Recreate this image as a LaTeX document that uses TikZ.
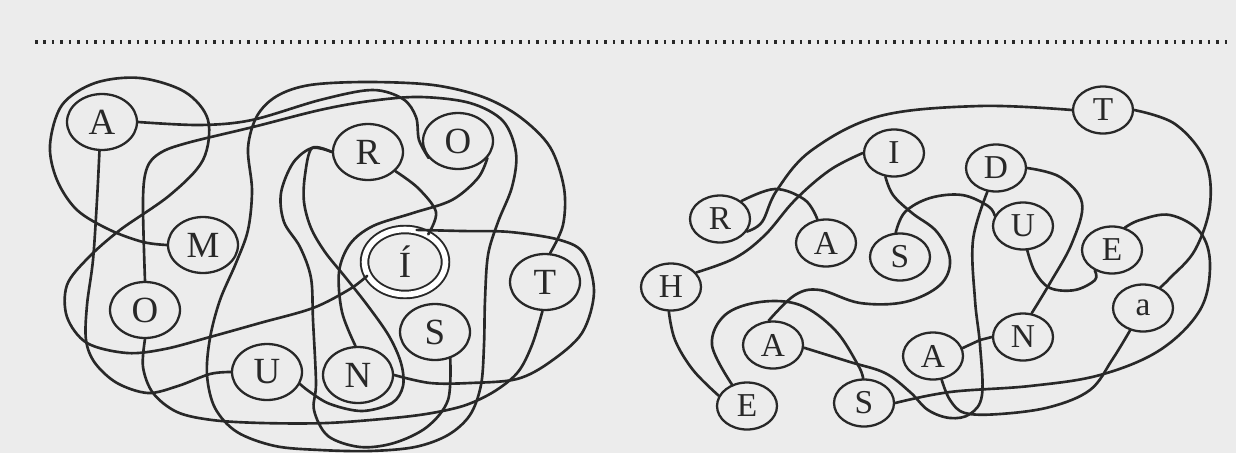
\documentclass[tikz,border=0pt]{standalone}
\usepackage{fontspec}
\setmainfont{Liberation Serif}
\usetikzlibrary{shapes.geometric}
\definecolor{bgc}{RGB}{236,236,236}
\definecolor{ink}{RGB}{40,40,40}
\begin{document}
\begin{tikzpicture}[x=0.02cm,y=-0.02cm,
  lt/.style={ellipse,draw=ink,line width=1.3pt,minimum width=1.4cm,minimum height=1.12cm,inner sep=0pt,text=ink,font=\fontsize{21}{24}\selectfont},
  dbl/.style={lt,double,double distance=3.2pt,line width=1.1pt,minimum width=1.62cm,minimum height=1.3cm},
  rt/.style={ellipse,draw=ink,line width=1.3pt,minimum width=1.2cm,minimum height=0.94cm,inner sep=0pt,text=ink,font=\fontsize{19}{22}\selectfont},
  ln/.style={draw=ink,line width=1.5pt,line join=round,line cap=round}]
\fill[bgc] (0,0) rectangle (1236,453);
\useasboundingbox (0,0) rectangle (1236,453);
\draw[ink,line width=2pt,dash pattern=on 0.05cm off 0.12cm] (35,42) -- (1232,42);
% left nodes
\node[lt] (A) at (102,122) {A};
\node[lt] (M) at (203,245) {M};
\node[lt] (O1) at (145,310) {O};
\node[lt] (R) at (368,152) {R};
\node[lt] (O2) at (458,141) {O};
\node[dbl] (I1) at (405,262) {Í};
\node[lt] (T1) at (545,282) {T};
\node[lt] (S) at (435,332) {S};
\node[lt] (U) at (267,372) {U};
\node[lt] (N) at (358,375) {N};
% right nodes
\node[rt] (T) at (1103,110) {T};
\node[rt] (I) at (894,153) {I};
\node[rt] (D) at (996,168) {D};
\node[rt] (U2) at (1023,226) {U};
\node[rt] (E) at (1112,250) {E};
\node[rt] (R2) at (720,219) {R};
\node[rt] (A1) at (826,243) {A};
\node[rt] (S1) at (900,257) {S};
\node[rt] (H) at (671,287) {H};
\node[rt] (A2) at (773,345) {A};
\node[rt] (E2) at (747,406) {E};
\node[rt] (S2) at (864,403) {S};
\node[rt] (A3) at (933,356) {A};
\node[rt] (N2) at (1023,337) {N};
\node[rt] (a) at (1143,308) {a};
% right connectors
\draw[ln] plot[smooth,tension=0.6] coordinates {(T.west) (980,106) (880,116) (812,150) (777,190) (762,222) (R2.-25)};
\draw[ln] plot[smooth,tension=0.6] coordinates {(T.east) (1175,124) (1205,160) (1210,205) (1195,250) (1170,278) (a.50)};
\draw[ln] plot[smooth,tension=0.6] coordinates {(I.west) (830,170) (795,200) (765,235) (735,258) (H.30)};
\draw[ln] plot[smooth,tension=0.6] coordinates {(I.-110) (893,195) (912,213) (937,232) (950,260) (940,285) (905,302) (860,303) (820,290) (795,295) (A2.100)};
\draw[ln] plot[smooth,tension=0.6] coordinates {(R2.40) (775,189) (805,200) (A1.110)};
\draw[ln] plot[smooth,tension=0.6] coordinates {(S1.100) (905,212) (930,198) (962,195) (988,206) (U2.160)};
\draw[ln] plot[smooth,tension=0.6] coordinates {(D.east) (1060,177) (1082,203) (1072,243) (1050,283) (N2.70)};
\draw[ln] plot[smooth,tension=0.6] coordinates {(D.-110) (973,240) (975,300) (980,345) (982,395) (970,414) (950,418) (928,410) (910,392) (885,373) (850,362) (A2.-5)};
\draw[ln] (N2.west) -- (980,340) -- (A3.15);
\draw[ln] plot[smooth,tension=0.6] coordinates {(A3.-70) (950,400) (965,413) (1000,414) (1050,407) (1090,390) (1112,360) (a.-120)};
\draw[ln] plot[smooth,tension=0.6] coordinates {(S2.east) (950,392) (1030,386) (1100,375) (1160,350) (1200,310) (1210,265) (1200,232) (1170,215) (1140,220) (E.60)};
\draw[ln] plot[smooth,tension=0.6] coordinates {(U2.-80) (1035,272) (1050,288) (1075,290) (1095,280) (E.-130)};
\draw[ln] plot[smooth,tension=0.6] coordinates {(H.-95) (675,340) (693,370) (E2.160)};
\draw[ln] plot[smooth,tension=0.6] coordinates {(E2.125) (712,345) (725,315) (760,302) (800,305) (835,330) (858,365) (S2.92)};
% left connectors
% M -- loop round A -- I
\draw[ln] plot[smooth,tension=0.55] coordinates {(M.west) (143,242) (110,230) (77,210) (57,180) (50,145) (62,105) (95,83) (140,78) (185,92) (208,120) (203,160) (170,195) (120,230) (88,258) (67,285) (67,317) (87,343) (127,353) (165,349) (210,337) (260,323) (313,308) (350,289) (I1.200)};
% A -- U
\draw[ln] plot[smooth,tension=0.55] coordinates {(A.-95) (97,200) (93,260) (87,305) (86,340) (95,363) (117,383) (148,393) (178,386) (210,374) (U.west)};
% A -- O (hugging its left)
\draw[ln] plot[smooth,tension=0.55] coordinates {(A.east) (200,125) (252,120) (320,100) (372,90) (403,99) (416,117) (419,140) (O2.-150)};
% O -- T, long loop
\draw[ln] plot[smooth,tension=0.55] coordinates {(O1.north) (143,200) (147,168) (160,153) (187,143) (253,127) (320,110) (370,101) (420,97) (470,103) (503,121) (516,153) (512,187) (498,222) (488,255) (485,300) (484,345) (481,385) (470,415) (448,435) (415,447) (370,451) (320,450) (275,446) (237,432) (215,408) (207,375) (210,338) (220,300) (236,263) (248,230) (252,190) (248,148) (257,116) (277,96) (310,85) (367,82) (433,85) (483,97) (520,117) (550,147) (564,188) (563,225) (T1.80)};
% O -- T, along the bottom
\draw[ln] plot[smooth,tension=0.55] coordinates {(O1.south) (143,367) (153,393) (177,412) (212,420) (262,423) (327,423) (393,418) (432,413) (466,405) (495,391) (518,372) (532,345) (T1.-95)};
% R -- S
\draw[ln] plot[smooth,tension=0.55] coordinates {(R.west) (312,148) (293,163) (281,193) (284,222) (300,247) (311,278) (313,320) (316,383) (314,410) (328,436) (360,447) (394,443) (427,427) (448,400) (S.-60)};
% R -- U (wrapping N)
\draw[ln] plot[smooth,tension=0.55] coordinates {(R.west) (312,148) (305,175) (304,202) (311,228) (325,252) (346,278) (368,306) (389,336) (401,363) (403,386) (392,403) (362,411) (330,404) (310,392) (U.-20)};
% O -- N
\draw[ln] plot[smooth,tension=0.55] coordinates {(O2.-30) (478,178) (452,200) (413,213) (373,226) (350,244) (339,272) (342,312) (N.95)};
% R -- I
\draw[ln] plot[smooth,tension=0.55] coordinates {(R.-35) (418,188) (436,212) (I1.50)};
% N -- round T -- I
\draw[ln] plot[smooth,tension=0.55] coordinates {(N.east) (430,383) (470,383) (517,379) (550,362) (582,333) (594,292) (584,254) (560,240) (510,232) (462,231) (I1.70)};
\end{tikzpicture}
\end{document}
